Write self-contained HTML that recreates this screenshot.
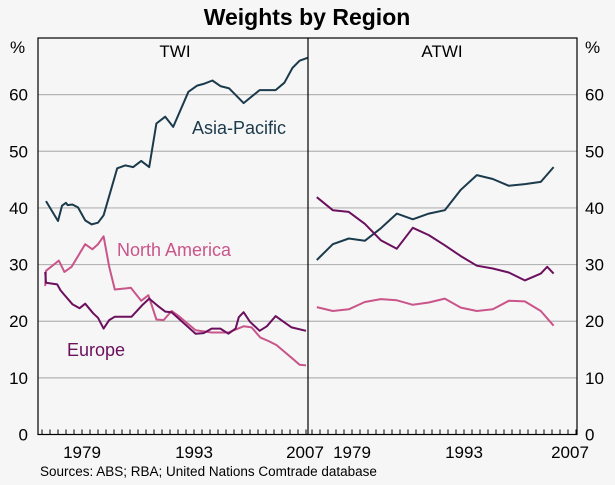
<!DOCTYPE html>
<html><head><meta charset="utf-8"><style>
body{margin:0;background:#f6f6f6;}
svg{display:block;font-family:"Liberation Sans",Arial,sans-serif;}
</style></head><body>
<svg id="c" width="615" height="485" viewBox="0 0 615 485">
<rect width="615" height="485" fill="#f6f6f6"/>
<text x="307" y="25" text-anchor="middle" font-size="23" font-weight="bold">Weights by Region</text>
<g id="grid"></g><g id="series"></g><g id="axes"></g>
<text x="175" y="57" text-anchor="middle" font-size="17">TWI</text>
<text x="442" y="57" text-anchor="middle" font-size="17">ATWI</text>
<text x="192" y="134" font-size="18" fill="#1b3a4b">Asia-Pacific</text>
<text x="117" y="256" font-size="18" fill="#c9558a">North America</text>
<text x="67" y="356" font-size="18" fill="#6b0f5e">Europe</text>
<text x="40" y="476" font-size="13.5">Sources: ABS; RBA; United Nations Comtrade database</text>
</svg>
<script>
const yTicks=[0,10,20,30,40,50,60];
const xLabels=[1979,1993,2007];
const twiAsiaYears=[1974.5,1976.0,1976.5,1977.0,1977.2,1977.8,1978.5,1979.4,1980.2,1981.0,1981.7,1983.4,1984.4,1985.4,1986.4,1987.4,1988.3,1989.4,1990.4,1992.3,1993.4,1994.2,1995.3,1996.3,1997.4,1999.2,2001.2,2003.2,2004.3,2005.3,2006.2,2007.2];
const twiAsia=[41.2,37.7,40.4,40.9,40.5,40.6,40.1,37.8,37.1,37.4,38.7,47.0,47.5,47.2,48.3,47.2,54.9,56.1,54.3,60.5,61.6,61.9,62.5,61.5,61.1,58.5,60.8,60.8,62.1,64.7,66.0,66.5];
const twiNAYears=[1974.4,1974.5,1976.1,1976.8,1977.7,1979.4,1980.3,1981.0,1981.7,1982.4,1983.1,1984.5,1985.1,1986.4,1987.3,1988.3,1989.2,1990.2,1991.2,1993.2,1995.2,1997.3,1999.2,2000.2,2001.3,2002.3,2003.3,2005.4,2006.2,2007.0];
const twiNA=[26.2,28.9,30.7,28.7,29.6,33.6,32.7,33.6,35.0,29.6,25.6,25.8,25.9,23.6,24.6,20.3,20.2,21.8,20.8,18.4,18.0,18.0,19.1,18.9,17.1,16.5,15.8,13.3,12.3,12.2];
const twiEuYears=[1974.4,1974.5,1975.9,1976.3,1976.7,1977.8,1978.7,1979.4,1980.4,1981.0,1981.7,1982.4,1983.1,1985.2,1986.5,1987.4,1988.4,1989.4,1990.2,1991.3,1993.2,1994.2,1995.2,1996.3,1997.3,1998.2,1998.6,1999.2,2000.0,2001.2,2002.1,2003.2,2004.2,2005.2,2007.0];
const twiEu=[28.7,26.8,26.5,25.5,24.8,23.0,22.3,23.1,21.4,20.6,18.7,20.2,20.8,20.8,22.8,24.0,22.8,21.7,21.6,20.2,17.8,17.9,18.7,18.7,17.8,18.7,20.7,21.6,19.9,18.3,19.1,20.9,19.9,18.9,18.3];
const atwiYears=[1974.6,1976.6,1978.6,1980.6,1982.6,1984.6,1986.6,1988.6,1990.6,1992.6,1994.6,1996.6,1998.6,2000.6,2002.6,2004.2];
const atwiAsia=[30.8,33.6,34.6,34.2,36.4,39.0,38.0,39.0,39.6,43.2,45.8,45.1,43.9,44.2,44.6,47.2];
const atwiNA=[22.5,21.8,22.1,23.4,23.9,23.7,22.9,23.3,24.0,22.4,21.8,22.1,23.6,23.5,21.8,19.2];
const atwiEuYears=[1974.6,1976.6,1978.6,1980.6,1982.6,1984.6,1986.6,1988.6,1990.6,1992.6,1994.6,1996.6,1998.6,2000.6,2002.6,2003.4,2004.2];
const atwiEu=[41.9,39.6,39.3,37.2,34.3,32.8,36.5,35.2,33.4,31.5,29.8,29.3,28.6,27.2,28.4,29.6,28.4];

const NS='http://www.w3.org/2000/svg';
const T=38,B=434.5,L=38,M=308,R=577;
const y=v=>B-(v/70)*(B-T);
const xT=yr=>L+(yr-1973.5)*8;
const xA=yr=>M+(yr-1973.5)*8;
function mk(tag,attrs,parent,txt){const e=document.createElementNS(NS,tag);for(const k in attrs)e.setAttribute(k,attrs[k]);if(txt!==undefined)e.textContent=txt;parent.appendChild(e);return e;}
const grid=document.getElementById('grid'),axes=document.getElementById('axes'),ser=document.getElementById('series');
yTicks.forEach(v=>{
 if(v>0){const g=mk('line',{x1:L,x2:R,y1:y(v),y2:y(v),stroke:'#b4b4b4','stroke-width':1.2},grid);
 
 }
 const a=mk('text',{x:28,y:y(v)+6,'text-anchor':'end','font-size':17},axes,String(v));
 
 
 const b=mk('text',{x:585,y:y(v)+6,'font-size':17},axes,String(v));
 
 
});
const p1=mk('text',{x:10,y:53,'font-size':17},axes,'%');


const p2=mk('text',{x:585,y:53,'font-size':17},axes,'%');


const fr=mk('rect',{x:L,y:T,width:R-L,height:B-T,fill:'none',stroke:'#000','stroke-width':1.2},axes);


const dv=mk('line',{x1:M,x2:M,y1:T,y2:B,stroke:'#000','stroke-width':1.2},axes);


for(let yr=1974;yr<=2007;yr++){
 [xT,xA].forEach((f,i)=>{const t=mk('line',{x1:f(yr),x2:f(yr),y1:B,y2:B-5,stroke:'#000','stroke-width':1},axes);
 
 });
}
xLabels.forEach(yr=>{
 const a=mk('text',{x:Math.min(xT(yr),305),y:458,'text-anchor':'middle','font-size':17},axes,String(yr));
 
 
 const b=mk('text',{x:Math.min(xA(yr),570),y:458,'text-anchor':'middle','font-size':17},axes,String(yr));
 
 
});
function line(xs,vs,fx,color,name){
 const d=xs.map((t,i)=>(i?'L':'M')+fx(t).toFixed(1)+' '+y(vs[i]).toFixed(1)).join(' ');
 const p=mk('path',{d:d,fill:'none',stroke:color,'stroke-width':2,'stroke-linejoin':'round'},ser);
 
 
}
line(twiAsiaYears,twiAsia,xT,'#1b3a4b','twi-asia-pacific-line');
line(twiNAYears,twiNA,xT,'#c9558a','twi-north-america-line');
line(twiEuYears,twiEu,xT,'#6b0f5e','twi-europe-line');
line(atwiYears,atwiAsia,xA,'#1b3a4b','atwi-asia-pacific-line');
line(atwiYears,atwiNA,xA,'#c9558a','atwi-north-america-line');
line(atwiEuYears,atwiEu,xA,'#6b0f5e','atwi-europe-line');
</script>
</body></html>
